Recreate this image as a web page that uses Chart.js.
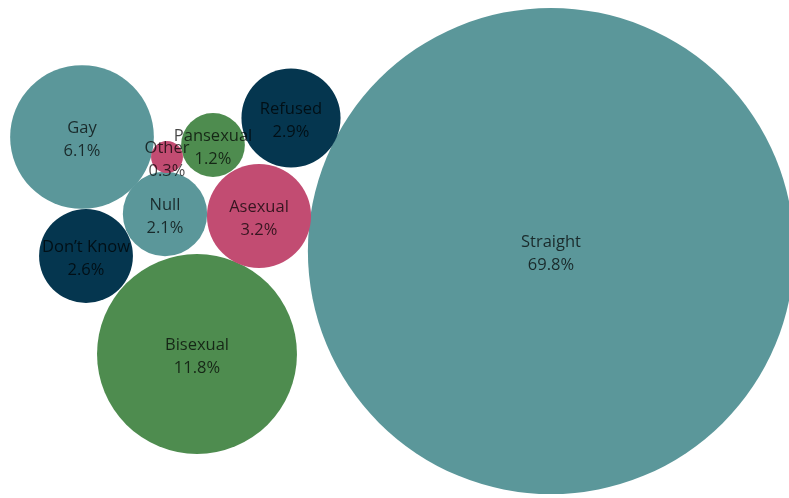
<!DOCTYPE html>
<html lang="en">
<head>
  <meta charset="UTF-8">
  <title>Sexual Orientation</title>
  <style>
    html, body { margin: 0; padding: 0; background: #fff; }
    #bubbles { display: block; }
  </style>
</head>
<body>
  <canvas id="bubbles" width="789" height="498"></canvas>

  <script src="https://cdn.jsdelivr.net/npm/chart.js"></script>
  <script>
    // share of respondents per answer (%)
    const categories = ['Straight', 'Bisexual', 'Gay', 'Asexual', 'Refused', 'Don\u2019t Know', 'Null', 'Pansexual', 'Other'];
    const shares     = [69.8, 11.8, 6.1, 3.2, 2.9, 2.6, 2.1, 1.2, 0.3];

    // packed layout: bubble centres on a 789 x 498 grid
    const centreX = [551, 197, 82, 259, 291, 86, 165, 213, 167];
    const centreY = [251, 354, 137, 216, 118, 256, 214, 145, 157];

    const colours = {
      'Straight': '#5b979a', 'Gay': '#5b979a', 'Null': '#5b979a',
      'Bisexual': '#4e8c4f', 'Pansexual': '#4e8c4f',
      'Asexual': '#c24c72', 'Other': '#c24c72',
      'Refused': '#05364f', 'Don\u2019t Know': '#05364f'
    };

    // bubble area follows the share
    const radiusPerRootPct = 29.1;

    const points = categories.map((c, i) => ({
      x: centreX[i],
      y: centreY[i],
      r: radiusPerRootPct * Math.sqrt(shares[i]),
      label: c,
      share: shares[i]
    }));

    const bubbleLabels = {
      id: 'bubbleLabels',
      afterDatasetsDraw(chart) {
        const ctx = chart.ctx;
        const meta = chart.getDatasetMeta(0);
        ctx.save();
        ctx.font = '16.5px "Open Sans", sans-serif';
        ctx.fillStyle = 'rgba(0, 0, 0, 0.72)';
        ctx.textAlign = 'center';
        ctx.textBaseline = 'middle';
        meta.data.forEach((el, i) => {
          const p = points[i];
          ctx.fillText(p.label, el.x, el.y - 9);
          ctx.fillText(p.share.toFixed(1) + '%', el.x, el.y + 14);
        });
        ctx.restore();
      }
    };

    new Chart(document.getElementById('bubbles'), {
      type: 'bubble',
      data: {
        datasets: [{
          data: points,
          backgroundColor: categories.map(c => colours[c]),
          borderWidth: 0,
          hoverBorderWidth: 0,
          clip: false
        }]
      },
      options: {
        responsive: false,
        animation: false,
        // keep the big bubble from shrinking the plot area
        layout: { autoPadding: false, padding: 0 },
        scales: {
          x: { type: 'linear', min: 0, max: 789, display: false },
          y: { type: 'linear', min: 0, max: 498, reverse: true, display: false }
        },
        plugins: {
          legend: { display: false },
          tooltip: { enabled: false }
        }
      },
      plugins: [bubbleLabels]
    });
  </script>
</body>
</html>
